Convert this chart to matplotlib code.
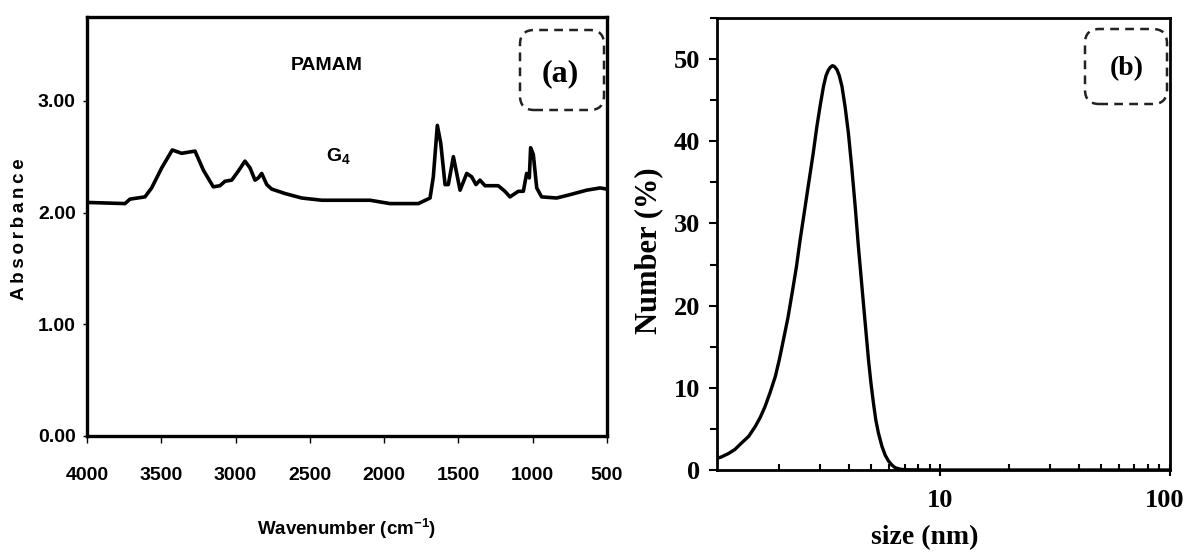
import numpy as np
import matplotlib
matplotlib.use('Agg')
import matplotlib.pyplot as plt
from matplotlib import font_manager as fm
from matplotlib.patches import FancyBboxPatch
from matplotlib.transforms import ScaledTranslation
from matplotlib.ticker import MultipleLocator, FixedLocator, LogLocator, NullFormatter

# FTIR spectrum of PAMAM G4 (panel a)
wavenumber = [3991, 3744, 3711, 3610, 3565, 3497, 3426, 3363, 3273, 3217, 3150, 3105,
              3071, 3026, 2982, 2937, 2903, 2869, 2847, 2824, 2790, 2757, 2667, 2555,
              2420, 2263, 2095, 1960, 1770, 1691, 1669, 1642, 1619, 1590, 1568, 1534,
              1507, 1489, 1444, 1411, 1382, 1355, 1321, 1232, 1187, 1153, 1097, 1063,
              1041, 1023, 1014, 996, 973, 940, 839, 749, 637, 547, 500]
absorbance = [2.09, 2.08, 2.12, 2.14, 2.22, 2.40, 2.56, 2.53, 2.55, 2.38, 2.23, 2.24,
              2.28, 2.29, 2.37, 2.46, 2.40, 2.29, 2.31, 2.35, 2.25, 2.21, 2.17, 2.13,
              2.11, 2.11, 2.11, 2.08, 2.08, 2.13, 2.32, 2.78, 2.62, 2.25, 2.25, 2.50,
              2.32, 2.20, 2.35, 2.32, 2.25, 2.29, 2.24, 2.24, 2.19, 2.14, 2.19, 2.19,
              2.35, 2.31, 2.58, 2.52, 2.22, 2.14, 2.13, 2.16, 2.20, 2.22, 2.21]
ir_xticks = [4000, 3500, 3000, 2500, 2000, 1500, 1000, 500]
ir_yticks = [0.0, 1.0, 2.0, 3.0]

# DLS number distribution (panel b)
size_nm = [1.07, 1.12, 1.20, 1.28, 1.37, 1.47, 1.57, 1.65, 1.73, 1.82, 1.92, 2.00,
           2.08, 2.18, 2.27, 2.37, 2.46, 2.57, 2.68, 2.80, 2.91, 3.01, 3.11, 3.19,
           3.27, 3.33, 3.40, 3.47, 3.56, 3.64, 3.74, 3.86, 3.99, 4.13, 4.27, 4.41,
           4.57, 4.72, 4.88, 5.00, 5.13, 5.25, 5.39, 5.58, 5.77, 5.96, 6.17, 6.37,
           6.70, 6.93, 7.5, 10, 100]
number_pct = [1.4, 1.6, 2.0, 2.5, 3.3, 4.1, 5.3, 6.4, 7.7, 9.4, 11.4, 13.5,
              15.8, 18.6, 21.5, 24.7, 28.0, 31.5, 34.9, 38.4, 41.8, 44.4, 46.7, 48.0,
              48.7, 49.0, 49.2, 49.1, 48.7, 48.0, 46.7, 44.2, 41.0, 36.7, 32.1, 27.2,
              22.3, 17.9, 13.4, 10.6, 8.1, 6.1, 4.5, 2.9, 1.8, 1.1, 0.6, 0.28,
              0.1, 0.05, 0.02, 0.0, 0.0]
dls_yticks = [0, 10, 20, 30, 40, 50]


def sans(size):
    return fm.FontProperties(family='Liberation Sans', weight='bold', size=size)


def serif(size):
    return fm.FontProperties(family='Liberation Serif', weight='bold', size=size)


W, H = 1187, 554
fig = plt.figure(figsize=(W / 100, H / 100), dpi=100)

# a. FTIR panel
ax1 = fig.add_axes([87 / W, 1 - 436 / H, 520 / W, 419 / H])
ax1.plot(wavenumber, absorbance, color='black', lw=2.6, solid_joinstyle='round')
ax1.set_xlim(4000, 500)
ax1.set_ylim(0, 3.75)
ax1.xaxis.set_major_locator(FixedLocator(ir_xticks))
ax1.yaxis.set_major_locator(FixedLocator(ir_yticks))
ax1.set_yticklabels([f'{v:.2f}' for v in ir_yticks])
ax1.tick_params(axis='x', direction='out', length=5, width=1, pad=17)
ax1.tick_params(axis='y', direction='out', length=3, width=1, pad=5)
ax1.tick_params(top=False, right=False)
for lbl in ax1.get_xticklabels() + ax1.get_yticklabels():
    lbl.set_fontproperties(sans(14))
for s in ax1.spines.values():
    s.set_linewidth(2.4)

ax1.set_xlabel(r'Wavenumber (cm$^{\mathregular{-1}}$)', fontproperties=sans(13.5))
ax1.xaxis.set_label_coords(0.5, -0.22)
ax1.xaxis.label.set_va('center')
ax1.set_ylabel('A\u2009b\u2009s\u2009o\u2009r\u2009b\u2009a\u2009n\u2009c\u2009e',
               family=['Liberation Sans', 'DejaVu Sans'], weight='bold', fontsize=13.5)
ax1.yaxis.set_label_coords(-0.129, 0.494)
ax1.yaxis.label.set_va('center')

ax1.text(0.4615, 0.885, 'PAMAM', transform=ax1.transAxes, ha='center', va='center',
         fontproperties=sans(14))
ax1.text(0.483, 0.666, r'G$_{\mathregular{4}}$', transform=ax1.transAxes,
         ha='center', va='center', fontproperties=sans(14))

# b. DLS panel
ax2 = fig.add_axes([717 / W, 1 - 470 / H, 453 / W, 452 / H])
ax2.plot(size_nm, number_pct, color='black', lw=2.4, solid_joinstyle='round')
ax2.set_xscale('log')
ax2.set_xlim(1.07, 100)
ax2.set_ylim(0, 55)
ax2.xaxis.set_major_locator(FixedLocator([10, 100]))
ax2.xaxis.set_minor_locator(LogLocator(base=10, subs=np.arange(2, 10)))
ax2.xaxis.set_minor_formatter(NullFormatter())
ax2.set_xticklabels(['10', '100'])
ax2.yaxis.set_major_locator(FixedLocator(dls_yticks))
ax2.yaxis.set_minor_locator(MultipleLocator(5))
ax2.tick_params(axis='x', which='major', direction='inout', length=8, width=1.5, pad=10)
ax2.tick_params(axis='x', which='minor', direction='in', length=4, width=1.5)
ax2.tick_params(axis='y', which='major', direction='out', length=6, width=1.5, pad=6)
ax2.tick_params(axis='y', which='minor', direction='out', length=5, width=1.5)
for lbl in ax2.get_xticklabels() + ax2.get_yticklabels():
    lbl.set_fontproperties(serif(19))
# keep "100" inside the canvas
last = ax2.get_xticklabels()[-1]
last.set_transform(last.get_transform() + ScaledTranslation(-5 / 100, 0, fig.dpi_scale_trans))
for s in ax2.spines.values():
    s.set_linewidth(2.0)

ax2.set_xlabel('size (nm)', fontproperties=serif(20))
ax2.xaxis.set_label_coords(0.459, -0.15)
ax2.xaxis.label.set_va('center')
ax2.set_ylabel('Number (%)', fontproperties=serif(22))
ax2.yaxis.set_label_coords(-0.150, 0.4845)
ax2.yaxis.label.set_va('center')

# c. dashed panel tags
for (x0, y0, x1, y1), tag, (tx, ty), fs in [
        ((520, 30, 604, 110), '(a)', (560, 74), 23),
        ((1085, 29, 1167, 104), '(b)', (1127, 69), 20)]:
    box = FancyBboxPatch((x0 / W, 1 - y1 / H), (x1 - x0) / W, (y1 - y0) / H,
                         boxstyle='round,pad=0,rounding_size=0.012',
                         mutation_aspect=W / H, transform=fig.transFigure,
                         fill=False, ec='#222222', lw=1.8, ls=(0, (3.5, 2.5)))
    fig.add_artist(box)
    fig.text(tx / W, 1 - ty / H, tag, ha='center', va='center', fontproperties=serif(fs))

fig.savefig('out.png', dpi=100)
